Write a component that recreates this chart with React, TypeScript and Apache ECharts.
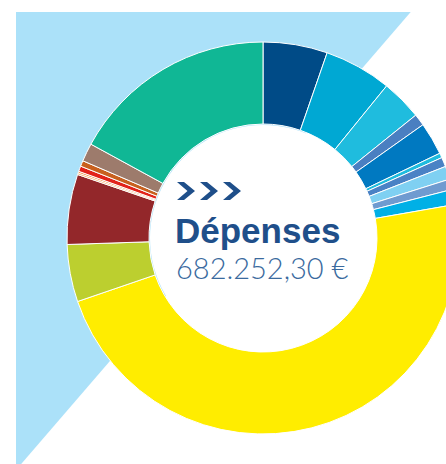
import React, { useEffect, useRef } from "react";
import * as echarts from "echarts";

// Spending categories (clockwise from 12 o'clock) and amounts in euros
const categories = [
  "Poste 1", "Poste 2", "Poste 3", "Poste 4", "Poste 5",
  "Poste 6", "Poste 7", "Poste 8", "Poste 9", "Poste 10",
  "Poste 11", "Poste 12", "Poste 13", "Poste 14", "Poste 15",
  "Poste 16", "Poste 17", "Poste 18", "Poste 19",
];
const amounts = [
  36197, 37903, 22931, 6633, 18383,
  2653, 5306, 7391, 5875, 8528,
  324071, 32218, 39419, 948, 948,
  3032, 3222, 10234, 116362,
];
const colors = [
  "#004b87", "#00a8d3", "#1fbcde", "#4a7fc1", "#0079c1",
  "#1fbcde", "#4a82c5", "#7fd0f2", "#6f9bd0", "#00b0e6",
  "#ffed00", "#bccf2f", "#93272a", "#f9a04b", "#ee7d22",
  "#e2231a", "#c8601e", "#9d7b6c", "#10b795",
];
const title = "Dépenses";
const totalLabel = "682.252,30 €";

export default function App() {
  const ref = useRef<HTMLDivElement>(null);
  useEffect(() => {
    if (!ref.current) return;
    const chart = echarts.init(ref.current, undefined, { renderer: "svg" });
    const chevrons = [0, 1, 2].map((i) => {
      const x = 177 + i * 23;
      return {
        type: "polygon",
        z: 100,
        shape: {
          points: [
            [x, 182],
            [x + 7, 182],
            [x + 18, 191],
            [x + 7, 200],
            [x, 200],
            [x + 10.5, 191],
          ],
        },
        style: { fill: "#1f4f8a" },
      };
    });
    chart.setOption({
      animation: false,
      backgroundColor: "#ffffff",
      graphic: [
        {
          type: "polygon",
          z: -10,
          shape: { points: [[16, 12], [410.7, 12], [16, 470]] },
          style: { fill: "#abe1f9" },
        },
        {
          type: "circle",
          z: 50,
          shape: { cx: 263, cy: 238, r: 113 },
          style: { fill: "#ffffff" },
        },
        ...chevrons,
        {
          type: "text",
          z: 100,
          left: 175,
          top: 213,
          style: {
            text: title,
            fill: "#1f4f8a",
            font: "bold 35px 'Liberation Sans', Arial, sans-serif",
          },
        },
        {
          type: "text",
          z: 100,
          left: 176,
          top: 253,
          style: {
            text: totalLabel,
            fill: "#3a6a9e",
            font: "300 29px Lato, 'Liberation Sans', sans-serif",
          },
        },
      ],
      series: [
        {
          type: "pie",
          center: [263, 238],
          radius: [114, 196],
          startAngle: 90,
          clockwise: true,
          silent: true,
          label: { show: false },
          labelLine: { show: false },
          itemStyle: { borderColor: "#ffffff", borderWidth: 1 },
          data: categories.map((name, i) => ({
            name,
            value: amounts[i],
            itemStyle: { color: colors[i] },
          })),
        },
      ],
    });
    return () => chart.dispose();
  }, []);
  return (
    <div
      ref={ref}
      style={{ position: "fixed", left: 0, top: 0, width: 446, height: 464 }}
    />
  );
}
